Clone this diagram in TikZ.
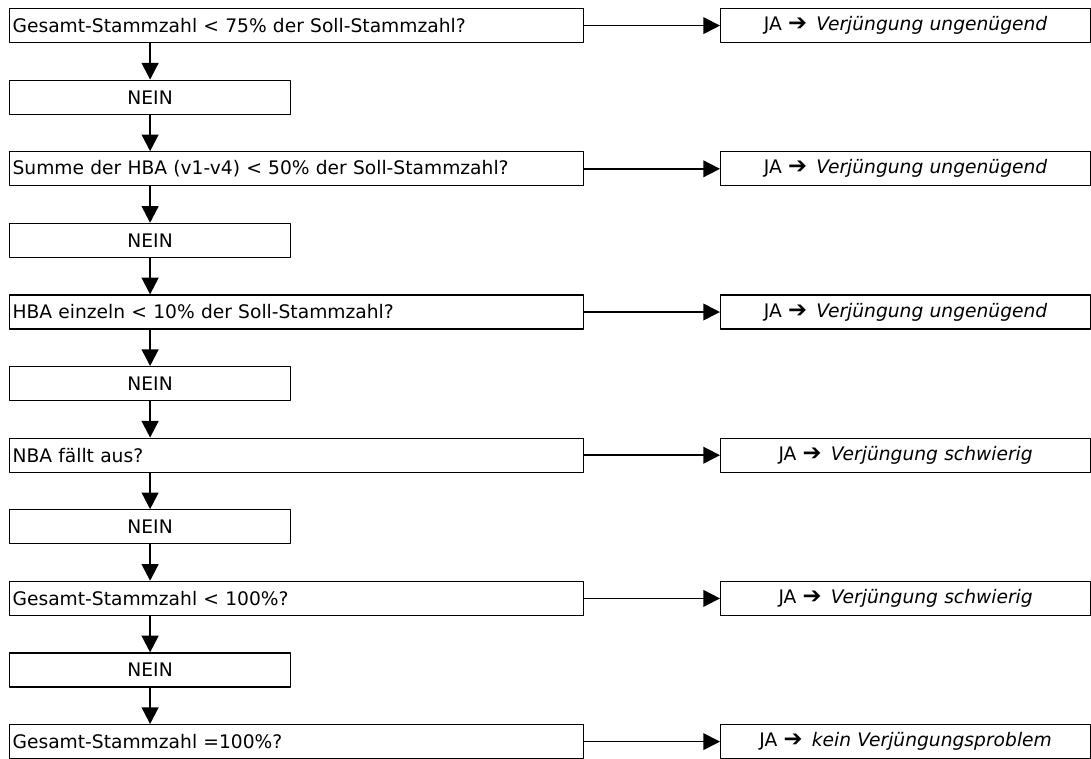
\documentclass[tikz,border=0pt]{standalone}
\usepackage{fontspec}
\setmainfont{DejaVu Sans}
\usetikzlibrary{arrows.meta}
\newcommand\jazu{JA {\fontsize{17}{16}\selectfont\bfseries ➔}\enspace}
\begin{document}
\begin{tikzpicture}[x=0.75pt, y=-0.75pt, line join=round,
  >={Triangle[length=12.5pt, width=12.5pt]},
  box/.style={draw, line width=0.9pt, anchor=north west, minimum height=25.5pt,
    inner xsep=2.25pt, inner ysep=0pt, font=\fontsize{14}{16}\selectfont},
  frage/.style={box, text width=426pt, align=left},
  nein/.style={box, text width=206.25pt, align=center},
  antwort/.style={box, text width=273pt, align=center},
  pfeil/.style={->, line width=1.7pt},
  japfeil/.style={->, line width=1.25pt}]
%Rahmen des Bildes
\useasboundingbox (0,0) rectangle (1091,758);
\def\dy{71.6}
%Fragen
\node[frage] (f1) at (9,8) {Gesamt-Stammzahl < 75\% der Soll-Stammzahl?};
\node[frage] (f2) at (9,{8+2*\dy}) {Summe der HBA (v1-v4) < 50\% der Soll-Stammzahl?};
\node[frage] (f3) at (9,{8+4*\dy}) {HBA einzeln < 10\% der Soll-Stammzahl?};
\node[frage] (f4) at (9,{8+6*\dy}) {NBA fällt aus?};
\node[frage] (f5) at (9,{8+8*\dy}) {Gesamt-Stammzahl < 100\%?};
\node[frage] (f6) at (9,{8+10*\dy}) {Gesamt-Stammzahl =100\%?};
%NEIN
\foreach \i in {1,...,5}
  \node[nein] (n\i) at (9,{8+(2*\i-1)*\dy}) {NEIN};
%Antworten
\node[antwort] (a1) at (720,8) {\jazu\textit{Verjüngung ungenügend}};
\node[antwort] (a2) at (720,{8+2*\dy}) {\jazu\textit{Verjüngung ungenügend}};
\node[antwort] (a3) at (720,{8+4*\dy}) {\jazu\textit{Verjüngung ungenügend}};
\node[antwort] (a4) at (720,{8+6*\dy}) {\jazu\textit{Verjüngung schwierig}};
\node[antwort] (a5) at (720,{8+8*\dy}) {\jazu\textit{Verjüngung schwierig}};
\node[antwort] (a6) at (720,{8+10*\dy}) {\jazu\textit{kein Verjüngungsproblem}};
%Pfeile
\foreach \i [evaluate=\i as \j using int(\i+1)] in {1,...,5} {
  \draw[pfeil] (n\i.north |- f\i.south) -- (n\i.north);
  \draw[pfeil] (n\i.south) -- (n\i.south |- f\j.north);
}
\foreach \i in {1,...,6}
  \draw[japfeil] (f\i.east) -- (a\i.west);
\end{tikzpicture}
\end{document}
